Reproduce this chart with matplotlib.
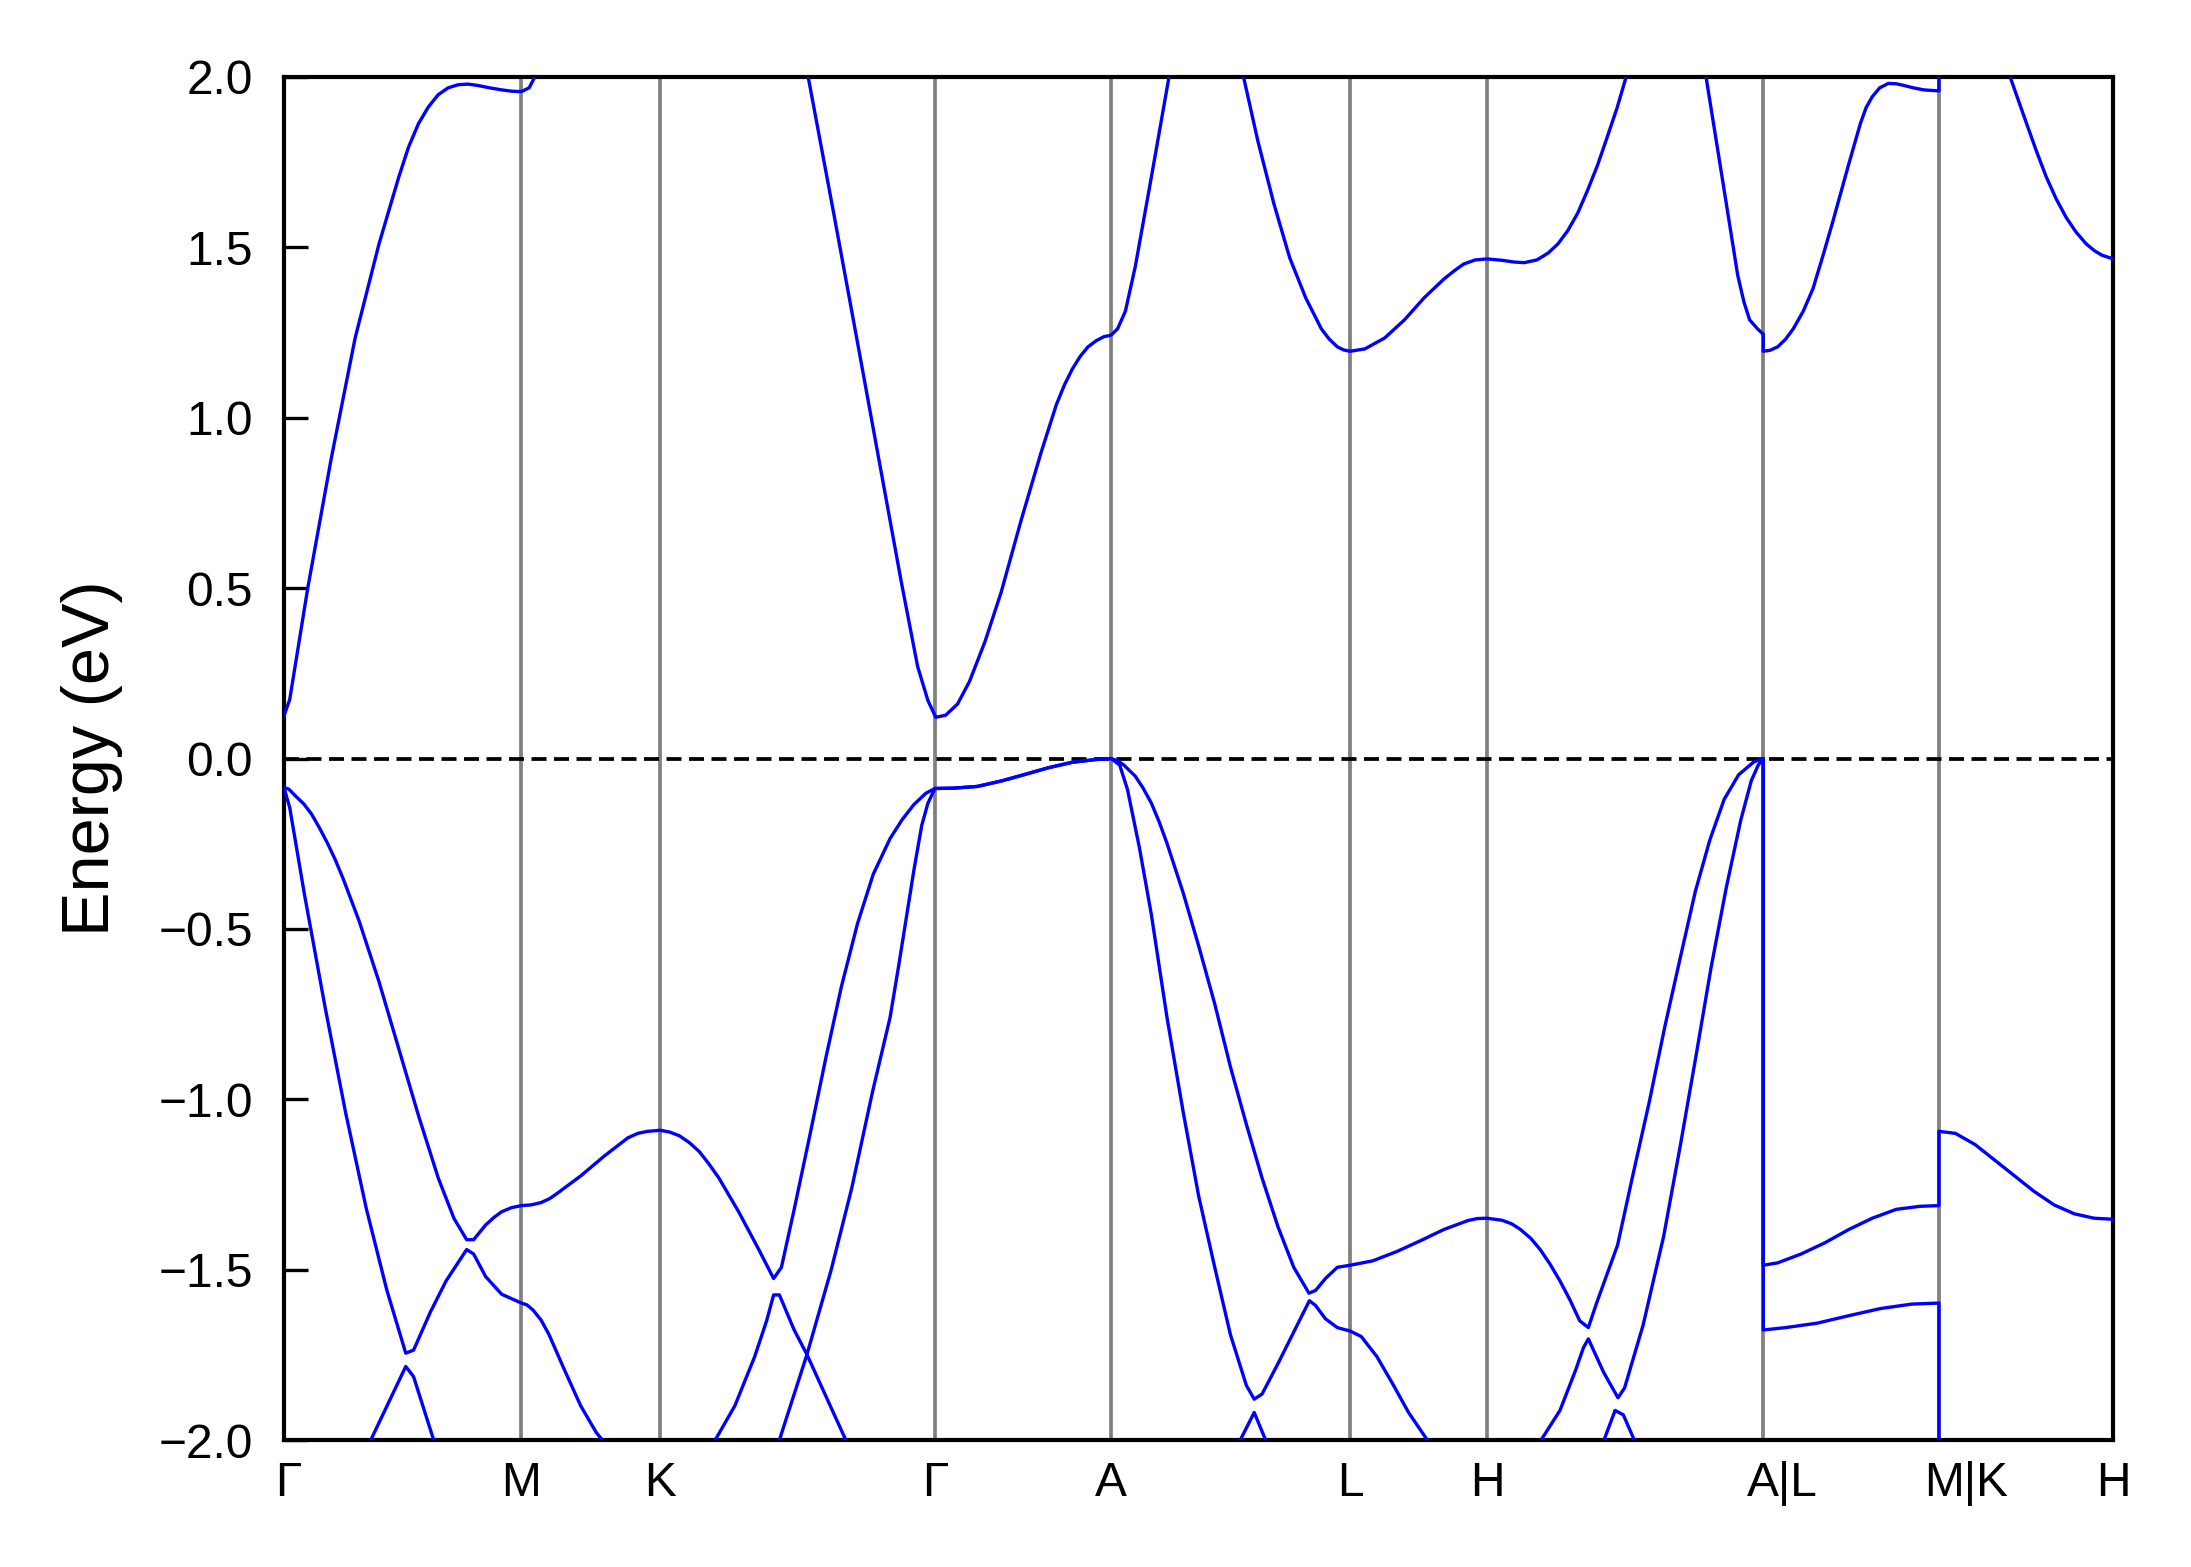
import numpy as np
import matplotlib
matplotlib.use('Agg')
import matplotlib.pyplot as plt
from matplotlib.transforms import ScaledTranslation

plt.rcParams['font.family'] = ['Liberation Sans', 'DejaVu Sans']
plt.rcParams['font.size'] = 11.5

# high-symmetry points along the path
kticks = [0.000, 0.577, 0.914, 1.582, 2.010, 2.591, 2.924, 3.595, 4.022, 4.445]
klabels = ['Γ', 'M', 'K', 'Γ', 'A', 'L', 'H', 'A|L', 'M|K', 'H']

# lowest conduction band
c1_k = [0.000, 0.014, 0.058, 0.115, 0.173, 0.231, 0.279, 0.303, 0.327, 0.351, 0.375, 0.399, 0.423, 0.447, 0.471,
        0.500, 0.529, 0.555, 0.577, 0.596, 0.610, 0.650,
        1.220, 1.274, 1.336, 1.394, 1.450, 1.500, 1.540, 1.565, 1.584, 1.608, 1.637, 1.666, 1.704, 1.743, 1.791, 1.839,
        1.877, 1.897, 1.916, 1.935, 1.954, 1.974, 1.993, 2.010, 2.026, 2.045, 2.069, 2.108, 2.151, 2.190,
        2.290, 2.332, 2.367, 2.406, 2.444, 2.483, 2.521, 2.540, 2.560, 2.575, 2.591, 2.627, 2.675, 2.723, 2.771, 2.819,
        2.845, 2.867, 2.895, 2.924,
        2.960, 2.988, 3.014, 3.045, 3.072, 3.096, 3.120, 3.144, 3.168, 3.192, 3.216, 3.240, 3.262, 3.300,
        3.420, 3.456, 3.495, 3.533, 3.548, 3.562, 3.581, 3.595, 3.595, 3.612, 3.630, 3.649, 3.668, 3.692, 3.716, 3.740,
        3.764, 3.803, 3.831, 3.845, 3.860, 3.878, 3.899, 3.918, 3.937, 3.960, 3.985, 4.022, 4.022,
        4.150, 4.195, 4.235, 4.259, 4.283, 4.307, 4.331, 4.355, 4.380, 4.400, 4.418, 4.445]
c1_E = [0.125, 0.173, 0.501, 0.881, 1.234, 1.510, 1.706, 1.795, 1.863, 1.912, 1.948, 1.968, 1.977, 1.979, 1.975,
        1.968, 1.962, 1.958, 1.957, 1.968, 2.001, 2.300,
        2.350, 2.000, 1.600, 1.220, 0.850, 0.520, 0.270, 0.170, 0.121, 0.127, 0.160, 0.226, 0.344, 0.488, 0.697, 0.894,
        1.038, 1.097, 1.143, 1.180, 1.208, 1.226, 1.238, 1.242, 1.261, 1.313, 1.444, 1.706, 2.001, 2.400,
        2.400, 2.000, 1.811, 1.627, 1.470, 1.352, 1.261, 1.231, 1.208, 1.199, 1.195, 1.202, 1.234, 1.287, 1.352, 1.407,
        1.432, 1.451, 1.463, 1.466,
        1.462, 1.457, 1.455, 1.463, 1.483, 1.510, 1.549, 1.600, 1.667, 1.740, 1.824, 1.910, 2.001, 2.400,
        2.400, 2.000, 1.706, 1.418, 1.340, 1.287, 1.261, 1.245, 1.195, 1.198, 1.208, 1.230, 1.261, 1.312, 1.379, 1.475,
        1.575, 1.745, 1.863, 1.910, 1.942, 1.968, 1.981, 1.980, 1.975, 1.968, 1.962, 1.959, 2.600,
        2.200, 2.000, 1.863, 1.782, 1.706, 1.642, 1.588, 1.545, 1.510, 1.490, 1.477, 1.466]

# top valence band
v1_k = [0.000, 0.012, 0.029, 0.048, 0.067, 0.086, 0.106, 0.125, 0.144, 0.183, 0.231, 0.279, 0.327, 0.375, 0.413,
        0.444, 0.461, 0.490, 0.510, 0.529, 0.553, 0.577,
        0.600, 0.625, 0.645, 0.663, 0.721, 0.779, 0.836, 0.860, 0.884, 0.914,
        0.937, 0.961, 0.985, 1.009, 1.033, 1.057, 1.105, 1.154, 1.190, 1.209, 1.240, 1.279, 1.317, 1.355, 1.394, 1.432,
        1.473, 1.502, 1.531, 1.560, 1.582,
        1.627, 1.685, 1.743, 1.800, 1.858, 1.916, 1.973, 2.010,
        2.025, 2.041, 2.069, 2.088, 2.108, 2.127, 2.146, 2.185, 2.223, 2.262, 2.300, 2.339, 2.377, 2.416, 2.454, 2.491,
        2.507, 2.531, 2.560, 2.591,
        2.646, 2.704, 2.762, 2.819, 2.877, 2.900, 2.924,
        2.960, 2.983, 3.005, 3.030, 3.053, 3.077, 3.101, 3.125, 3.149, 3.170, 3.190, 3.241, 3.279, 3.318, 3.356, 3.395,
        3.430, 3.465, 3.500, 3.535, 3.572, 3.595,
        3.595, 3.630, 3.687, 3.745, 3.803, 3.860, 3.918, 3.976, 4.022,
        4.022, 4.062, 4.110, 4.158, 4.206, 4.254, 4.302, 4.351, 4.399, 4.445]
v1_E = [-0.085, -0.090, -0.111, -0.133, -0.163, -0.203, -0.249, -0.298, -0.353, -0.478, -0.655, -0.851, -1.048,
        -1.231, -1.349, -1.412, -1.412, -1.369, -1.347, -1.330, -1.318, -1.312,
        -1.310, -1.303, -1.292, -1.277, -1.225, -1.166, -1.113, -1.100, -1.094, -1.091,
        -1.096, -1.107, -1.127, -1.153, -1.190, -1.231, -1.330, -1.441, -1.526, -1.493, -1.323, -1.100, -0.878, -0.668,
        -0.484, -0.340, -0.235, -0.180, -0.135, -0.102, -0.088,
        -0.087, -0.082, -0.066, -0.047, -0.027, -0.011, -0.003, 0.000,
        -0.006, -0.019, -0.052, -0.087, -0.131, -0.186, -0.249, -0.393, -0.550, -0.720, -0.904, -1.074, -1.231, -1.375,
        -1.493, -1.569, -1.561, -1.526, -1.493, -1.487,
        -1.474, -1.447, -1.415, -1.382, -1.356, -1.350, -1.349,
        -1.355, -1.365, -1.382, -1.408, -1.441, -1.484, -1.533, -1.588, -1.650, -1.670, -1.598, -1.428, -1.218, -1.008,
        -0.786, -0.576, -0.390, -0.240, -0.120, -0.048, -0.010, 0.000,
        -1.487, -1.480, -1.454, -1.421, -1.382, -1.349, -1.323, -1.314, -1.312,
        -1.094, -1.100, -1.133, -1.179, -1.225, -1.271, -1.310, -1.336, -1.349, -1.352]

# second valence band
v2_k = [0.000, 0.014, 0.050, 0.100, 0.150, 0.200, 0.250, 0.296, 0.315, 0.356, 0.394, 0.444, 0.461, 0.490, 0.529,
        0.577, 0.590, 0.605, 0.625, 0.644, 0.682, 0.721, 0.759, 0.777, 0.830, 0.914, 1.000,
        1.048, 1.096, 1.144, 1.173, 1.190, 1.204, 1.240, 1.271, 1.330, 1.380, 1.430, 1.473, 1.493, 1.512, 1.531, 1.550,
        1.565, 1.582,
        1.627, 1.685, 1.743, 1.800, 1.858, 1.916, 1.973, 2.010,
        2.031, 2.050, 2.079, 2.108, 2.146, 2.185, 2.223, 2.262, 2.300, 2.339, 2.358, 2.377, 2.416, 2.454, 2.492, 2.507,
        2.531, 2.560, 2.591,
        2.618, 2.656, 2.694, 2.733, 2.781, 2.850, 2.924, 2.990,
        3.053, 3.101, 3.139, 3.158, 3.170, 3.207, 3.242, 3.258, 3.303, 3.353, 3.393, 3.431, 3.468, 3.505, 3.540, 3.566,
        3.583, 3.595,
        3.595, 3.649, 3.726, 3.803, 3.880, 3.956, 4.022,
        4.022, 4.445]
v2_E = [-0.085, -0.144, -0.400, -0.730, -1.040, -1.320, -1.560, -1.745, -1.736, -1.624, -1.533, -1.441, -1.454,
        -1.520, -1.572, -1.598, -1.603, -1.618, -1.648, -1.690, -1.795, -1.899, -1.978, -2.004, -2.150, -2.300, -2.120,
        -2.000, -1.899, -1.755, -1.650, -1.574, -1.574, -1.677, -1.749, -1.500, -1.260, -0.980, -0.760, -0.615, -0.471,
        -0.327, -0.196, -0.131, -0.088,
        -0.087, -0.082, -0.066, -0.047, -0.027, -0.011, -0.003, 0.000,
        -0.019, -0.091, -0.262, -0.458, -0.760, -1.035, -1.284, -1.493, -1.690, -1.840, -1.880, -1.865, -1.775, -1.683,
        -1.591, -1.605, -1.644, -1.670, -1.680,
        -1.696, -1.755, -1.834, -1.919, -2.004, -2.130, -2.200, -2.120,
        -2.004, -1.913, -1.795, -1.729, -1.703, -1.801, -1.876, -1.847, -1.663, -1.402, -1.139, -0.877, -0.615, -0.380,
        -0.183, -0.065, -0.019, 0.000,
        -1.677, -1.670, -1.657, -1.635, -1.614, -1.601, -1.598,
        -2.400, -2.400]

# third valence band (only its tops reach the window)
v3_k = [0.000, 0.150, 0.211, 0.296, 0.315, 0.365, 0.450, 1.150, 1.204, 1.271, 1.367, 1.450,
        2.270, 2.324, 2.358, 2.387, 2.450, 3.150, 3.208, 3.235, 3.255, 3.283, 3.330, 4.445]
v3_E = [-2.600, -2.300, -2.000, -1.784, -1.814, -2.004, -2.300, -2.300, -2.000, -1.749, -2.004, -2.300,
        -2.300, -2.000, -1.919, -2.004, -2.200, -2.200, -2.000, -1.913, -1.926, -2.004, -2.200, -2.600]

fig = plt.figure(figsize=(2191 / 300, 1567 / 300), dpi=300)
ax = fig.add_axes([0.1296, 0.0810, 0.8348, 0.8699])

for k in kticks[1:-1]:
    ax.axvline(k, color='gray', lw=0.9, zorder=1)
ax.axhline(0, color='k', lw=0.9, ls='--', dashes=(4, 2), zorder=2)

for bk, be in [(c1_k, c1_E), (v1_k, v1_E), (v2_k, v2_E), (v3_k, v3_E)]:
    ax.plot(bk, be, color='blue', lw=0.8, zorder=3)

ax.set_xlim(kticks[0], kticks[-1])
ax.set_ylim(-2.0, 2.0)
ax.set_xticks(kticks)
ax.set_xticklabels(klabels)
ax.set_yticks([-2.0, -1.5, -1.0, -0.5, 0.0, 0.5, 1.0, 1.5, 2.0])
ax.tick_params(axis='y', direction='in', length=5.8, width=0.8, pad=7.5, labelsize=11.5)
ax.tick_params(axis='x', length=0, pad=5, labelsize=11.5)
for sp in ax.spines.values():
    sp.set_linewidth(1.0)

# the joined labels sit a little to the right of their lines
ticks = ax.xaxis.get_major_ticks()
for i, dx in [(0, 1.0), (7, 4.5), (8, 6.5)]:
    lab = ticks[i].label1
    lab.set_transform(lab.get_transform() + ScaledTranslation(dx / 72, 0, fig.dpi_scale_trans))

ax.set_ylabel('Energy (eV)', fontsize=16)
ax.yaxis.set_label_coords(-0.088, 0.5)

fig.savefig('out.png', dpi=300)
